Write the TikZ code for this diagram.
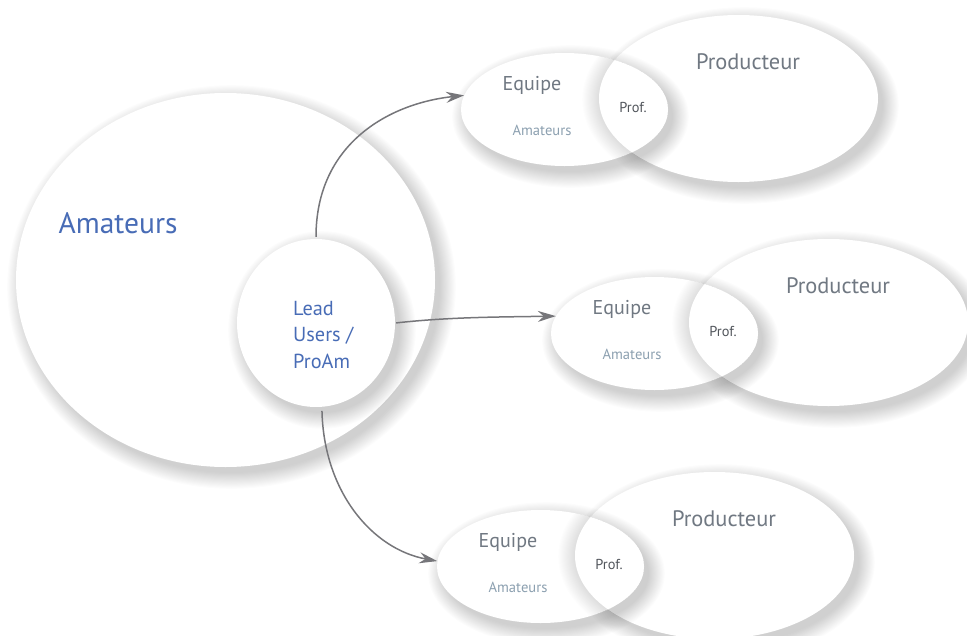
\documentclass[tikz,border=0pt]{standalone}
\usepackage{fontspec}
\setmainfont{PT Sans}
\usetikzlibrary{arrows.meta,shapes.geometric}

\definecolor{leadblue}{RGB}{72,108,182}
\definecolor{labelgrey}{RGB}{112,120,130}
\definecolor{profgrey}{RGB}{82,86,92}
\definecolor{mutedblue}{RGB}{140,160,176}
\definecolor{arrowgrey}{RGB}{118,118,122}

% soft shadow: stacked faint ellipses, offset down-right
\newcommand\blobshade[4][0.012]{%
  \foreach \k in {1,...,16}
    \fill [black, fill opacity=#1, shift={#2}] (6,7) ellipse [x radius=#3-2+\k*1.05, y radius=#4-2+\k*1.05];}

\tikzset{
  blob/.style={ellipse, fill=white, inner sep=0pt},
  link/.style={draw=arrowgrey, line width=1.5pt,
    -{Stealth[length=18pt,width=11pt,inset=6pt]}}
}

\begin{document}
\begin{tikzpicture}[x=1pt,y=-1pt]
        \useasboundingbox (0,0) rectangle (967,635);

        %Shape: Ellipse [amateurs]
        \blobshade{(225.5,280)}{209.5}{187}
        \node [blob, minimum width=419, minimum height=374] (amateurs) at (225.5,280) {};
        %Shape: Circle [lead]
        \blobshade{(316,323)}{79}{84}
        \node [blob, minimum width=158, minimum height=168] (lead) at (316,323) {};

        % Text Node
        \node [text=leadblue, font=\fontsize{29.5}{34}\selectfont] at (118,223) {Amateurs};
        % Text Node
        \node [text=leadblue, font=\fontsize{20.3}{26.5}\selectfont, align=left, anchor=west, inner sep=0pt] at (293,335) {Lead\\Users /\\ProAm};

        % three teams: producer ellipse under team ellipse
        \foreach \dx/\dy/\n in {0/0/1, 90/224/2, -24/457/3}{
          %Shape: Ellipse [prod]
          \blobshade{(738.5+\dx,98.5+\dy)}{139.5}{83.5}
          \node [blob, minimum width=279, minimum height=167] (prod\n) at (738.5+\dx,98.5+\dy) {};
          %Shape: Ellipse [eq]
          \blobshade{(564.5+\dx,109.5+\dy)}{103.5}{56.5}
          \node [blob, minimum width=207, minimum height=113] (eq\n) at (564.5+\dx,109.5+\dy) {};
          % producer rim seen through the team
          \begin{scope}
            \clip (564.5+\dx,109.5+\dy) ellipse [x radius=103.5, y radius=56.5];
            \blobshade[0.008]{(730.5+\dx,92.5+\dy)}{139.5}{83.5}
            \fill [white] (738.5+\dx,98.5+\dy) ellipse [x radius=139.5, y radius=83.5];
          \end{scope}
          % Text Node
          \node [text=labelgrey, font=\fontsize{22.4}{26}\selectfont] at (748+\dx,62+\dy) {Producteur};
          % Text Node
          \node [text=labelgrey, font=\fontsize{20}{24}\selectfont] at (532+\dx,85+\dy) {Equipe};
          % Text Node
          \node [text=mutedblue, font=\fontsize{14.6}{17}\selectfont] at (542+\dx,130+\dy) {Amateurs};
          % Text Node
          \node [text=profgrey, font=\fontsize{14.4}{17}\selectfont] at (633+\dx,107+\dy) {Prof.};
        }

        %Curve Lines
        \draw [link, shorten <=2pt] (lead.north) .. controls +(0,-95) and +(-75,8) .. (eq1.172);
        \draw [link, shorten <=1pt] (lead.east) .. controls +(55,-6) and +(-60,1) .. (eq2.170);
        \draw [link, shorten <=4pt] (lead.-86) .. controls +(2,85) and +(-65,-12) .. (eq3.177);

    \end{tikzpicture}
\end{document}
